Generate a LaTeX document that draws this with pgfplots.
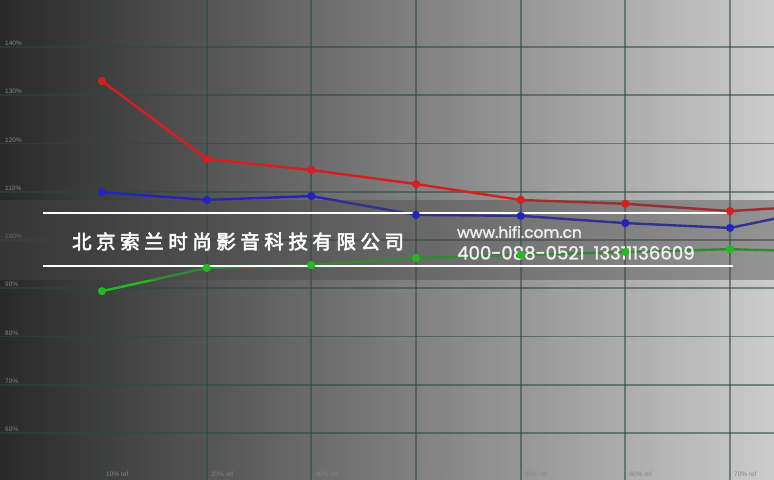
\documentclass[border=0pt]{standalone}
\usepackage{pgfplots}
\pgfplotsset{compat=1.18}
\usepackage{fontspec}
\setmainfont{Liberation Sans}
\newfontfamily\poppins[FakeBold=1.5]{Poppins}
\newfontfamily\cjk[AutoFakeBold=3]{Noto Sans CJK SC}
\definecolor{gridc}{RGB}{40,74,68}
\definecolor{rline}{RGB}{215,30,30}
\definecolor{bline}{RGB}{35,35,190}
\definecolor{gline}{RGB}{35,185,35}
\newcommand\ls{\kern4.6bp}
\begin{document}
\begin{tikzpicture}
\begin{axis}[
  width=774bp, height=480bp, scale only axis,
  xmin=0.255, xmax=74.2, ymin=50.26, ymax=149.74,
  axis background/.style={left color=black!84, right color=black!20},
  axis line style={draw=none},
  tick style={draw=none},
  grid=major,
  major grid style={draw=gridc, opacity=0.55, line width=1.8bp},
  xtick={0,10,20,30,40,50,60,70},
  xticklabels={,10\% ref,20\% ref,30\% ref,40\% ref,50\% ref,60\% ref,70\% ref},
  ytick={60,70,80,90,100,110,120,130,140},
  yticklabels={60\%,70\%,80\%,90\%,100\%,110\%,120\%,130\%,140\%},
  xticklabel style={anchor=north west, inner sep=0pt, xshift=4bp, yshift=8bp, font=\fontsize{6.5}{8}\selectfont, text=black!48},
  yticklabel style={anchor=south west, inner sep=0pt, xshift=5bp, yshift=1bp, font=\fontsize{6.5}{8}\selectfont, text=black!48},
  every axis plot/.append style={line width=2.4bp, mark=*, mark size=2.8bp},
]
\addplot[color=rline, mark options={fill=rline, draw=rline}] coordinates {(10,132.95) (20,116.8) (30,114.5) (40,111.6) (50,108.3) (60,107.5) (70,106.0) (80,107.3)};
\addplot[color=bline, mark options={fill=bline, draw=bline}] coordinates {(10,109.9) (20,108.3) (30,109.1) (40,105.2) (50,105.0) (60,103.5) (70,102.5) (80,107.0)};
\addplot[color=gline, mark options={fill=gline, draw=gline}] coordinates {(10,89.4) (20,94.2) (30,94.8) (40,96.3) (50,96.9) (60,97.5) (70,98.1) (80,97.5)};
\fill[black!72, opacity=0.42] (rel axis cs:0,0.4167) rectangle (rel axis cs:1,0.5833);
\draw[white, line width=1.3bp] (rel axis cs:0.0556,0.5563) -- (rel axis cs:0.947,0.5563);
\draw[white, line width=1.3bp] (rel axis cs:0.0556,0.4458) -- (rel axis cs:0.947,0.4458);
\node[text=white, inner sep=0pt, anchor=west, font=\cjk\bfseries\fontsize{19.5}{21}\selectfont] at (rel axis cs:0.093,0.497) {北\ls 京\ls 索\ls 兰\ls 时\ls 尚\ls 影\ls 音\ls 科\ls 技\ls 有\ls 限\ls 公\ls 司};
\node[text=white!94!black, inner sep=0pt, anchor=west, font=\poppins\fontsize{15.5}{18}\selectfont] at (rel axis cs:0.5904,0.5167) {www.hifi.com.cn};
\node[text=white!94!black, inner sep=0pt, anchor=west, font=\poppins\fontsize{18.2}{19}\selectfont] at (rel axis cs:0.5904,0.473) {400-088-0521\hspace{9bp}13311136609};
\coordinate (A) at (rel axis cs:0,0);
\coordinate (B) at (rel axis cs:1,1);
\end{axis}
\pgfresetboundingbox
\useasboundingbox (A) rectangle (B);
\end{tikzpicture}
\end{document}
